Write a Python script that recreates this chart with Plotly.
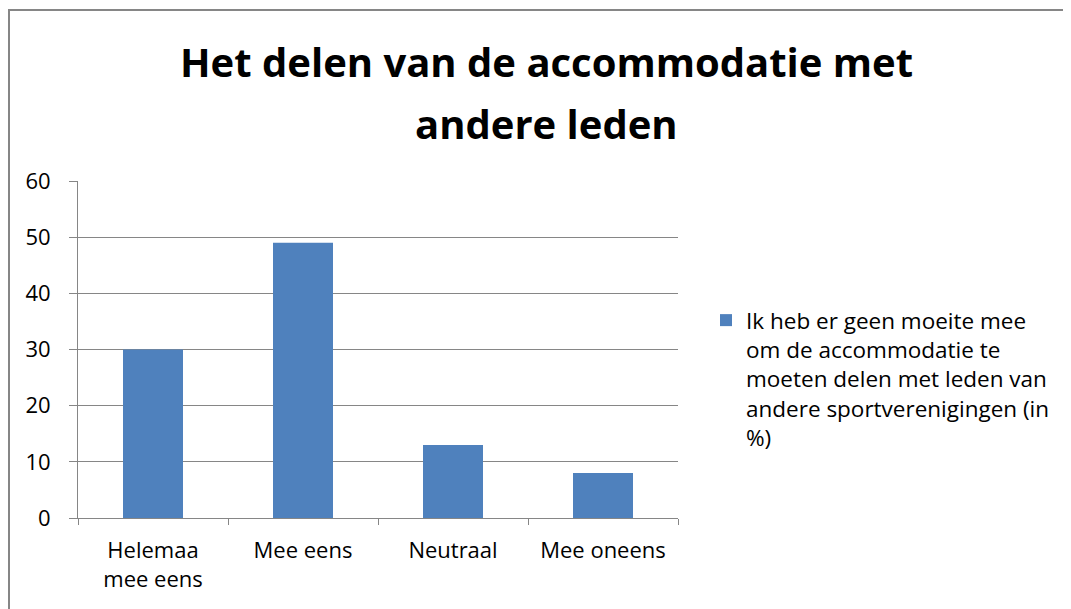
import plotly.graph_objects as go

categories = ["Helemaa<br>mee eens", "Mee eens", "Neutraal", "Mee oneens"]
values = [30, 49, 13, 8]
series_name = "Ik heb er geen moeite mee<br>om de accommodatie te<br>moeten delen met leden van<br>andere sportverenigingen (in<br>%)"
title_lines = ["Het delen van de accommodatie met", "andere leden"]

OFF = 8  # default body margin of the page
W, H = 1071 - OFF, 609 - OFF
L, R, T, B = 78 - OFF, 678 - OFF, 181 - OFF, 518 - OFF
pw, ph = R - L, B - T


def px(x):
    return (x - OFF - L) / pw


def py(y):
    return (B - (y - OFF)) / ph


fig = go.Figure()
fig.add_trace(go.Bar(x=categories, y=values, name=series_name,
                     marker=dict(color="#4F81BD", line=dict(width=0)),
                     showlegend=True))

font = "Open Sans, Liberation Sans, sans-serif"
annotations = []
for i, (line, yc) in enumerate(zip(title_lines, [62, 123])):
    annotations.append(dict(text=line, xref="paper", yref="paper", x=px(546), y=py(yc),
                            xanchor="center", yanchor="middle", showarrow=False,
                            font=dict(family=font, size=40, color="black", weight="bold")))

fig.update_layout(
    width=W, height=H,
    margin=dict(l=L, r=W - R, t=T, b=H - B, pad=0, autoexpand=False),
    paper_bgcolor="white", plot_bgcolor="white",
    bargap=0.6,
    showlegend=True,
    annotations=annotations,
    font=dict(family=font, size=22, color="black"),
    legend=dict(x=px(706), y=py(299), xanchor="left", yanchor="top", valign="top",
                font=dict(family=font, size=22.5, color="black"),
                itemwidth=30, tracegroupgap=0, bgcolor="rgba(0,0,0,0)"),
    xaxis=dict(showline=True, linecolor="#868686", linewidth=1, ticks="outside",
               tickson="boundaries", ticklen=6, tickcolor="#868686", ticklabelstandoff=13,
               tickfont=dict(family=font, size=22, color="black"), showgrid=False),
    yaxis=dict(range=[0, 60], dtick=10, showline=True, linecolor="#868686", linewidth=1,
               ticks="outside", ticklen=8, tickcolor="#868686", showgrid=True,
               gridcolor="#868686", gridwidth=1, zeroline=False, ticklabelstandoff=14,
               tickfont=dict(family=font, size=22, color="black")),
    shapes=[dict(type="rect", xref="paper", yref="paper",
                 x0=px(9), x1=px(1070), y0=py(660), y1=py(10),
                 line=dict(color="#868686", width=2), fillcolor="rgba(0,0,0,0)", layer="below")],
)

fig.write_html("out.html")
